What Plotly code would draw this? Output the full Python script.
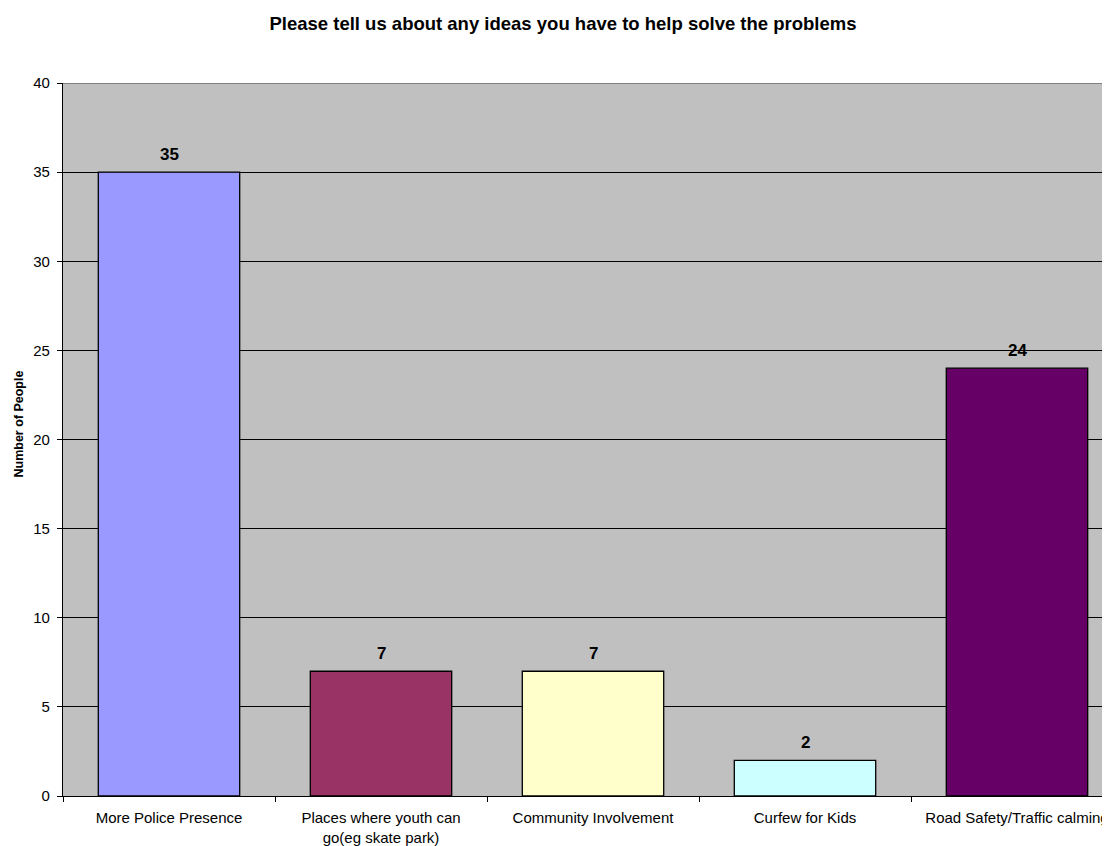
import plotly.graph_objects as go

categories = ["More Police Presence", "Places where youth can<br>go(eg skate park)",
              "Community Involvement", "Curfew for Kids", "Road Safety/Traffic calming"]
values = [35, 7, 7, 2, 24]
colors = ["#9999FF", "#993366", "#FFFFCC", "#CCFFFF", "#660066"]
y_ticks = [0, 5, 10, 15, 20, 25, 30, 35, 40]

FONT = "Arial, Liberation Sans, sans-serif"

fig = go.Figure()
fig.add_trace(go.Bar(
    x=categories, y=values,
    marker=dict(color=colors, line=dict(color="#000000", width=1.3)),
    width=0.667,
    hoverinfo="skip",
))

for c, v in zip(categories, values):
    fig.add_annotation(x=c, y=v, text="<b>%d</b>" % v, showarrow=False,
                       yanchor="bottom", yshift=6,
                       font=dict(family=FONT, size=17, color="#000000"))

W, H = 1102, 838
L, T, B = 55, 75, 50
cat_w = 212
x_max = -0.5 + (W - L) / cat_w

fig.add_annotation(xref="paper", yref="paper", x=0, y=0.521, xshift=-44,
                   xanchor="center", yanchor="middle", textangle=-90,
                   text="<b>Number of People</b>", showarrow=False,
                   font=dict(family=FONT, size=12.5, color="#000000"))

fig.update_layout(
    width=W, height=H,
    margin=dict(l=L, r=0, t=T, b=B, autoexpand=False),
    paper_bgcolor="#FFFFFF",
    plot_bgcolor="#C0C0C0",
    showlegend=False,
    title=dict(text="<b>Please tell us about any ideas you have to help solve the problems</b>",
               x=555 / W, xanchor="center", xref="container",
               y=1 - 16 / H, yanchor="middle", yref="container",
               font=dict(family=FONT, size=18.5, color="#000000")),
    font=dict(family=FONT, size=15, color="#000000"),
    xaxis=dict(
        type="category", range=[-0.5, x_max],
        showline=True, linecolor="#000000", linewidth=1.3,
        ticks="outside", ticklen=5, tickcolor="#000000",
        tickson="boundaries", showgrid=False,
        ticklabelstandoff=8, automargin=False,
        tickfont=dict(family=FONT, size=15, color="#000000"),
    ),
    yaxis=dict(
        range=[0, 40], tickvals=y_ticks,
        showline=True, linecolor="#000000", linewidth=1.3,
        ticks="outside", ticklen=5, tickcolor="#000000",
        showgrid=True, gridcolor="#000000", gridwidth=1,
        zeroline=False, ticklabelstandoff=4, automargin=False,
        tickfont=dict(family=FONT, size=15, color="#000000"),
    ),
)

fig.add_shape(type="line", xref="paper", yref="y", x0=0, x1=1, y0=40, y1=40,
              line=dict(color="#808080", width=2))

fig.write_html("out.html")
